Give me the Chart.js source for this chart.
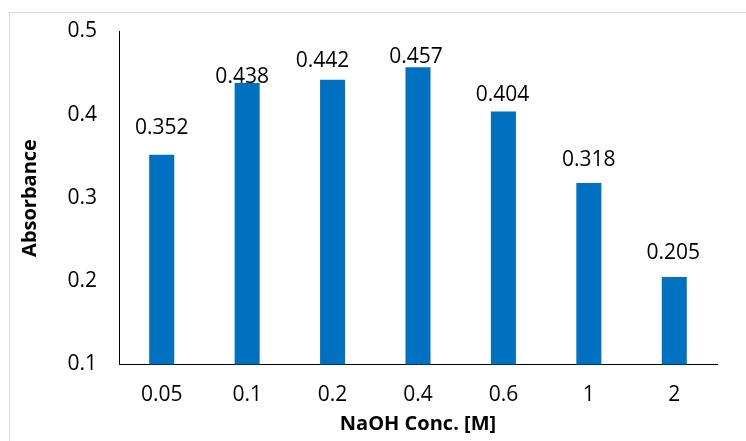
<!DOCTYPE html>
<html>
<head>
<meta charset="utf-8">
<script src="https://cdn.jsdelivr.net/npm/chart.js@4/dist/chart.umd.min.js"></script>
<style>
  html, body { margin: 0; padding: 0; background: #fff; }
  #wrap { width: 746px; height: 441px; }
</style>
</head>
<body>
<div id="wrap"><canvas id="c" width="746" height="441"></canvas></div>
<script>
// ---- data ----
const categories = ['0.05', '0.1', '0.2', '0.4', '0.6', '1', '2'];
const absorbance = [0.352, 0.438, 0.442, 0.457, 0.404, 0.318, 0.205];
const yTicks = [0.1, 0.2, 0.3, 0.4, 0.5];
const xTitle = 'NaOH Conc. [M]';
const yTitle = 'Absorbance';

// ---- label placement tweaks (layout only) ----
const labelGap = [21, 0, 13, 4, 10, 17, 18];
const labelDx = [0, -5, -10, -2, -1, 0, -1];

const FONT = 'Open Sans';
const BAR_COLOR = '#0070C0';

const frame = {
  id: 'frame',
  beforeDraw(chart) {
    const ctx = chart.ctx;
    ctx.save();
    ctx.fillStyle = '#fff';
    ctx.fillRect(0, 0, chart.width, chart.height);
    ctx.strokeStyle = '#d9d9d9';
    ctx.lineWidth = 1;
    ctx.strokeRect(9.5, 12.5, 900, 600);
    ctx.restore();
  }
};

const valueLabels = {
  id: 'valueLabels',
  afterDatasetsDraw(chart) {
    const ctx = chart.ctx;
    const meta = chart.getDatasetMeta(0);
    ctx.save();
    ctx.font = '21px "' + FONT + '"';
    ctx.fillStyle = '#000';
    ctx.textAlign = 'center';
    ctx.textBaseline = 'alphabetic';
    meta.data.forEach((bar, i) => {
      const v = chart.data.datasets[0].data[i];
      ctx.fillText(v.toFixed(3), bar.x + labelDx[i], bar.y - labelGap[i]);
    });
    ctx.restore();
  }
};

new Chart(document.getElementById('c'), {
  type: 'bar',
  data: {
    labels: categories,
    datasets: [{
      data: absorbance,
      backgroundColor: BAR_COLOR,
      borderWidth: 0,
      barPercentage: 0.293,
      categoryPercentage: 1.0
    }]
  },
  options: {
    responsive: false,
    animation: false,
    events: [],
    layout: { padding: { left: 0, top: 31.5, right: 29, bottom: 0 } },
    plugins: { legend: { display: false }, tooltip: { enabled: false } },
    scales: {
      x: {
        grid: { display: false, drawTicks: false },
        border: { display: true, color: '#000', width: 1 },
        ticks: { color: '#000', padding: 18, font: { family: FONT, size: 21 } },
        title: {
          display: true, text: xTitle, color: '#000',
          font: { family: FONT, size: 20, weight: 'bold' },
          padding: { top: 0, bottom: 5 }
        },
        afterFit(scale) { scale.height = 76.5; scale.paddingLeft = 0; scale.paddingRight = 0; }
      },
      y: {
        min: 0.1, max: 0.5,
        grid: { display: false, drawTicks: false },
        border: { display: true, color: '#000', width: 1 },
        afterBuildTicks(scale) { scale.ticks = yTicks.map(v => ({ value: v })); },
        ticks: {
          color: '#000', padding: 22,
          font: { family: FONT, size: 21 },
          callback: (v) => Number(v).toFixed(1)
        },
        title: {
          display: true, text: yTitle, color: '#000',
          font: { family: FONT, size: 20, weight: 'bold' },
          padding: { top: 18, bottom: 0 }
        },
        afterFit(scale) { scale.width = 119; scale.paddingTop = 0; scale.paddingBottom = 0; }
      }
    }
  },
  plugins: [frame, valueLabels]
});
</script>
</body>
</html>
